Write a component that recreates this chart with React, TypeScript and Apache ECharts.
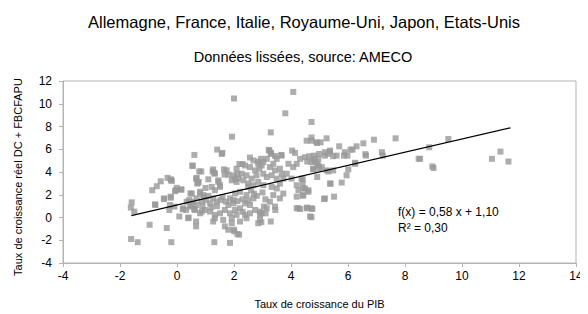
import React, { useEffect, useRef } from "react";
import * as echarts from "echarts";

const chartTitle = "Allemagne, France, Italie, Royaume-Uni, Japon, Etats-Unis";
const chartSubtitle = "Données lissées, source: AMECO";
const xAxisName = "Taux de croissance du PIB";
const yAxisName = "Taux de croissance réel DC + FBCFAPU";
const trendLabel = ["f(x) = 0,58 x + 1,10", "R² = 0,30"];

// [PIB growth, domestic demand growth]
const scatterPoints: [number, number][] = [
  [-1.59, 1.33], [-1.62, 0.87], [-1.5, 0.52], [-1.61, -1.89], [-1.38, -2.17],
  [-0.96, -0.64], [-0.76, 1.1], [-0.87, 2.4], [-0.71, 2.75], [-0.57, 3.18],
  [-0.46, 1.62], [-0.36, -0.93], [-0.33, 3.48], [-0.22, 3.36], [-0.18, 3.22],
  [-0.27, 0.66], [-0.22, 1.74], [-0.2, -2.17], [-0.09, 0.96], [-0.07, 2.31],
  [-0.01, 2.61], [0.14, 2.46], [0.08, 0.09], [0.2, 0.72], [0.34, 1.39],
  [0.4, -0.06], [0.55, 4.52], [0.61, 5.5], [0.47, 2.11], [0.5, 1.1],
  [0.63, 0.66], [0.67, -0.35], [0.67, -0.78], [0.69, 3.48], [0.74, 3.07],
  [0.85, 4.05], [0.81, 2.11], [0.87, 0.52], [0.95, 1.83], [1.27, 4.23],
  [1.31, 3.91], [1.41, 5.97], [1.59, 5.68], [1.45, 3.27], [1.51, 2.84],
  [1.31, -2.17], [1.86, -2.23], [1.8, -1.08], [2.01, -1.22], [2.18, -1.51],
  [2.0, 10.46], [1.93, 7.1], [4.08, 11.04], [3.8, 9.16], [3.29, 7.48],
  [3.22, 5.94], [3.3, 5.68], [2.56, 5.27], [2.84, 4.92], [2.68, 5.01],
  [2.19, 4.7], [2.3, 4.7], [3.44, 5.41], [3.66, 5.5], [4.04, 5.88],
  [4.14, 5.68], [2.95, 5.16], [3.45, 0.66], [3.29, -0.35], [2.96, -0.41],
  [2.91, 0.52], [3.11, 0.37], [3.05, 0.96], [4.2, 0.81], [2.44, -0.06],
  [2.39, 0.23], [2.21, -0.35],
  [0.54, 4.58], [0.78, 4.05], [-0.21, 3.27], [0.67, 3.42], [0.76, 3.13],
  [0.71, 2.98], [1.1, 3.36], [1.25, 4.05], [1.33, 3.85], [1.57, 5.59],
  [1.65, 4.23], [1.74, 4.14], [1.8, 3.77], [1.67, 3.77], [1.92, 3.27],
  [2.04, 3.42], [2.12, 3.85], [2.09, 3.13], [1.45, 3.13], [1.51, 2.69],
  [1.22, 2.69], [1.33, 2.4], [-0.04, 2.4], [0.16, 2.46], [0.52, 2.11],
  [0.81, 2.26], [0.92, 1.97], [-0.45, 1.68], [-0.22, 1.83], [-0.77, 1.16],
  [-0.25, 1.1], [0.4, 0.0], [0.22, 0.81], [0.32, 0.66], [0.46, 0.96],
  [0.6, 0.75], [0.69, 1.1], [0.43, 1.53], [0.57, 1.39], [0.69, 1.68],
  [0.87, 1.39], [1.02, 1.53], [1.16, 1.24], [1.27, 1.68], [1.39, 1.39],
  [1.53, 1.53], [1.72, 1.39], [1.86, 1.68], [1.98, 1.24], [2.12, 1.44],
  [0.81, 0.37], [0.98, 0.66], [1.16, 0.52], [1.33, 0.23], [1.51, 0.37],
  [1.68, 0.66], [1.86, 0.37], [2.04, 0.66], [1.27, -0.35], [1.33, -0.06],
  [1.62, -0.21], [1.68, -0.78], [1.92, -0.5], [2.0, -1.08], [2.12, -1.45],
  [4.72, 8.4], [4.55, 6.75], [4.72, 6.75], [4.72, 7.04], [4.92, 6.55],
  [5.04, 6.61], [5.25, 6.96], [5.69, 6.26], [6.09, 5.97], [6.3, 6.26],
  [6.54, 6.52], [5.89, 5.74], [5.98, 5.44], [6.63, 5.44], [6.25, 4.72],
  [6.01, 4.23], [5.95, 3.71], [5.37, 5.79], [5.31, 5.59], [5.19, 5.44],
  [4.99, 5.59], [4.96, 5.16], [4.81, 5.44], [4.72, 4.87], [4.49, 5.3],
  [4.57, 4.92], [4.92, 4.72], [4.78, 4.29], [4.99, 4.29], [5.08, 4.43],
  [5.25, 4.14], [3.91, 4.72], [4.08, 4.43], [4.32, 5.16], [4.2, 4.72],
  [3.67, 5.44], [3.5, 5.16], [3.38, 4.72], [3.24, 5.88], [3.29, 5.59],
  [3.15, 5.16], [3.03, 4.87], [3.26, 4.43], [3.44, 4.14], [3.61, 4.29],
  [3.67, 3.85], [3.85, 3.85], [4.02, 3.42], [3.73, 3.42], [4.37, 3.42],
  [4.41, 2.98], [2.85, 4.72], [2.97, 4.57], [2.89, 4.29], [2.74, 4.14],
  [2.56, 4.43], [2.39, 4.57], [2.09, 4.29], [2.27, 3.85], [2.44, 3.71],
  [2.62, 3.42], [2.79, 3.71], [3.03, 3.85], [3.15, 3.56], [3.32, 3.71],
  [3.5, 3.42], [3.61, 2.98], [3.5, 2.55], [3.32, 2.69], [3.03, 2.84],
  [2.85, 3.13], [2.68, 2.84], [2.5, 2.98], [2.33, 3.27], [2.15, 3.42],
  [1.98, 3.71], [4.2, 2.84], [4.26, 2.4], [4.49, 2.55], [4.61, 2.4],
  [4.2, 1.83], [4.55, 0.81], [4.72, 0.81], [4.26, 0.81], [4.67, 0.09],
  [5.19, 1.68], [5.51, 1.83], [5.37, 2.98], [5.78, 3.07], [3.73, 2.11],
  [3.61, 1.68], [3.38, 1.97], [3.26, 1.39], [3.44, 0.96], [3.15, 0.81],
  [2.91, 0.23], [2.85, -0.5], [2.74, 0.66], [2.56, 1.1], [2.39, 1.24],
  [2.21, 0.81], [2.09, 0.23], [1.92, -0.06], [2.56, 0.37], [2.68, 1.68],
  [2.44, 1.97], [2.21, 2.26], [2.04, 2.11], [1.98, 1.53],
  [4.9, 6.61], [6.16, 5.97], [6.91, 6.84], [7.67, 6.96], [6.61, 5.57],
  [7.19, 5.74], [7.22, 5.44], [8.48, 5.16], [4.64, 5.39], [4.78, 5.16],
  [5.19, 5.74], [5.37, 5.88], [5.48, 5.39], [5.6, 5.44], [5.86, 5.44],
  [4.84, 4.92], [4.96, 4.57], [4.78, 4.23], [4.92, 3.56], [5.31, 4.05],
  [5.48, 4.14], [6.25, 4.81], [4.41, 3.36], [5.39, 2.98], [4.43, 2.55],
  [4.61, 2.26], [4.41, 1.91], [5.16, 1.62], [4.32, 0.75], [4.57, 0.87],
  [4.75, 0.75], [4.72, 0.03], [2.91, -0.21], [2.97, 0.37], [4.43, 1.97],
  [9.52, 6.9], [8.85, 6.17], [8.53, 5.16], [8.96, 4.49], [9.0, 4.35],
  [11.05, 5.16], [11.35, 5.79], [11.63, 4.92],
  [1.1, 1.9], [1.4, 1.0], [1.6, 1.8], [1.8, 1.1], [2.3, 1.6],
  [2.5, 1.5], [2.6, 2.4], [2.8, 1.9], [3.0, 2.2], [3.1, 1.6],
  [1.2, 0.9], [2.3, 0.5], [2.5, 2.7], [2.7, 2.1], [1.0, 2.6], [0.9, 1.0],
];

// regression line f(x) = 0.58 x + 1.10 over the data's x range
const trendSlope = 0.58;
const trendIntercept = 1.1;
const trendRange = [-1.6, 11.7];

const xTicks = { min: -4, max: 14, interval: 2 };
const yTicks = { min: -4, max: 12, interval: 2 };

const FONT = "Liberation Sans, Arial, sans-serif";

export default function App() {
  const ref = useRef<HTMLDivElement>(null);
  useEffect(() => {
    if (!ref.current) return;
    const chart = echarts.init(ref.current, undefined, { renderer: "svg" });
    const trendData = trendRange.map((x) => [x, trendSlope * x + trendIntercept]);
    chart.setOption({
      animation: false,
      backgroundColor: "#ffffff",
      textStyle: { fontFamily: FONT },
      title: [
        {
          text: chartTitle,
          left: 291,
          top: 0,
          textAlign: "center",
          textStyle: { fontFamily: FONT, fontSize: 16.5, fontWeight: "normal", color: "#000" },
        },
        {
          text: chartSubtitle,
          left: 290,
          top: 36,
          textAlign: "center",
          textStyle: { fontFamily: FONT, fontSize: 14.5, fontWeight: "normal", color: "#000" },
        },
      ],
      grid: {
        left: 55,
        right: 12,
        top: 73,
        height: 184,
        show: true,
        borderColor: "#b3b3b3",
        borderWidth: 1,
        backgroundColor: "transparent",
      },
      xAxis: {
        type: "value",
        min: xTicks.min,
        max: xTicks.max,
        interval: xTicks.interval,
        name: xAxisName,
        nameLocation: "middle",
        nameGap: 35,
        nameTextStyle: { fontFamily: FONT, fontSize: 11, color: "#000" },
        axisLine: { show: true, onZero: false, lineStyle: { color: "#b3b3b3", width: 1 } },
        axisTick: { show: true, length: 4, inside: false, lineStyle: { color: "#b3b3b3" } },
        axisLabel: { fontFamily: FONT, fontSize: 12, color: "#000", margin: 7 },
        splitLine: { show: false },
      },
      yAxis: {
        type: "value",
        min: yTicks.min,
        max: yTicks.max,
        interval: yTicks.interval,
        axisLine: { show: true, onZero: false, lineStyle: { color: "#b3b3b3", width: 1 } },
        axisTick: { show: true, length: 4, inside: false, lineStyle: { color: "#b3b3b3" } },
        axisLabel: { fontFamily: FONT, fontSize: 12, color: "#000", margin: 11 },
        splitLine: { show: false },
      },
      series: [
        {
          type: "scatter",
          data: scatterPoints,
          symbol: "rect",
          symbolSize: 6,
          itemStyle: { color: "#999999" },
          silent: true,
        },
        {
          type: "line",
          data: trendData,
          symbol: "none",
          lineStyle: { color: "#000000", width: 1.2 },
          silent: true,
        },
      ],
      graphic: [
        {
          type: "text",
          x: 10,
          y: 169,
          rotation: Math.PI / 2,
          style: {
            text: yAxisName,
            fontFamily: FONT,
            fontSize: 11,
            fill: "#000",
            align: "center",
            verticalAlign: "middle",
          },
        },
        {
          type: "text",
          left: 390,
          top: 198,
          style: { text: trendLabel[0], fontFamily: FONT, fontSize: 12, fill: "#000" },
        },
        {
          type: "text",
          left: 390,
          top: 214,
          style: { text: trendLabel[1], fontFamily: FONT, fontSize: 12, fill: "#000" },
        },
      ],
    });
    return () => chart.dispose();
  }, []);
  return <div ref={ref} style={{ width: 580, height: 306 }} />;
}
